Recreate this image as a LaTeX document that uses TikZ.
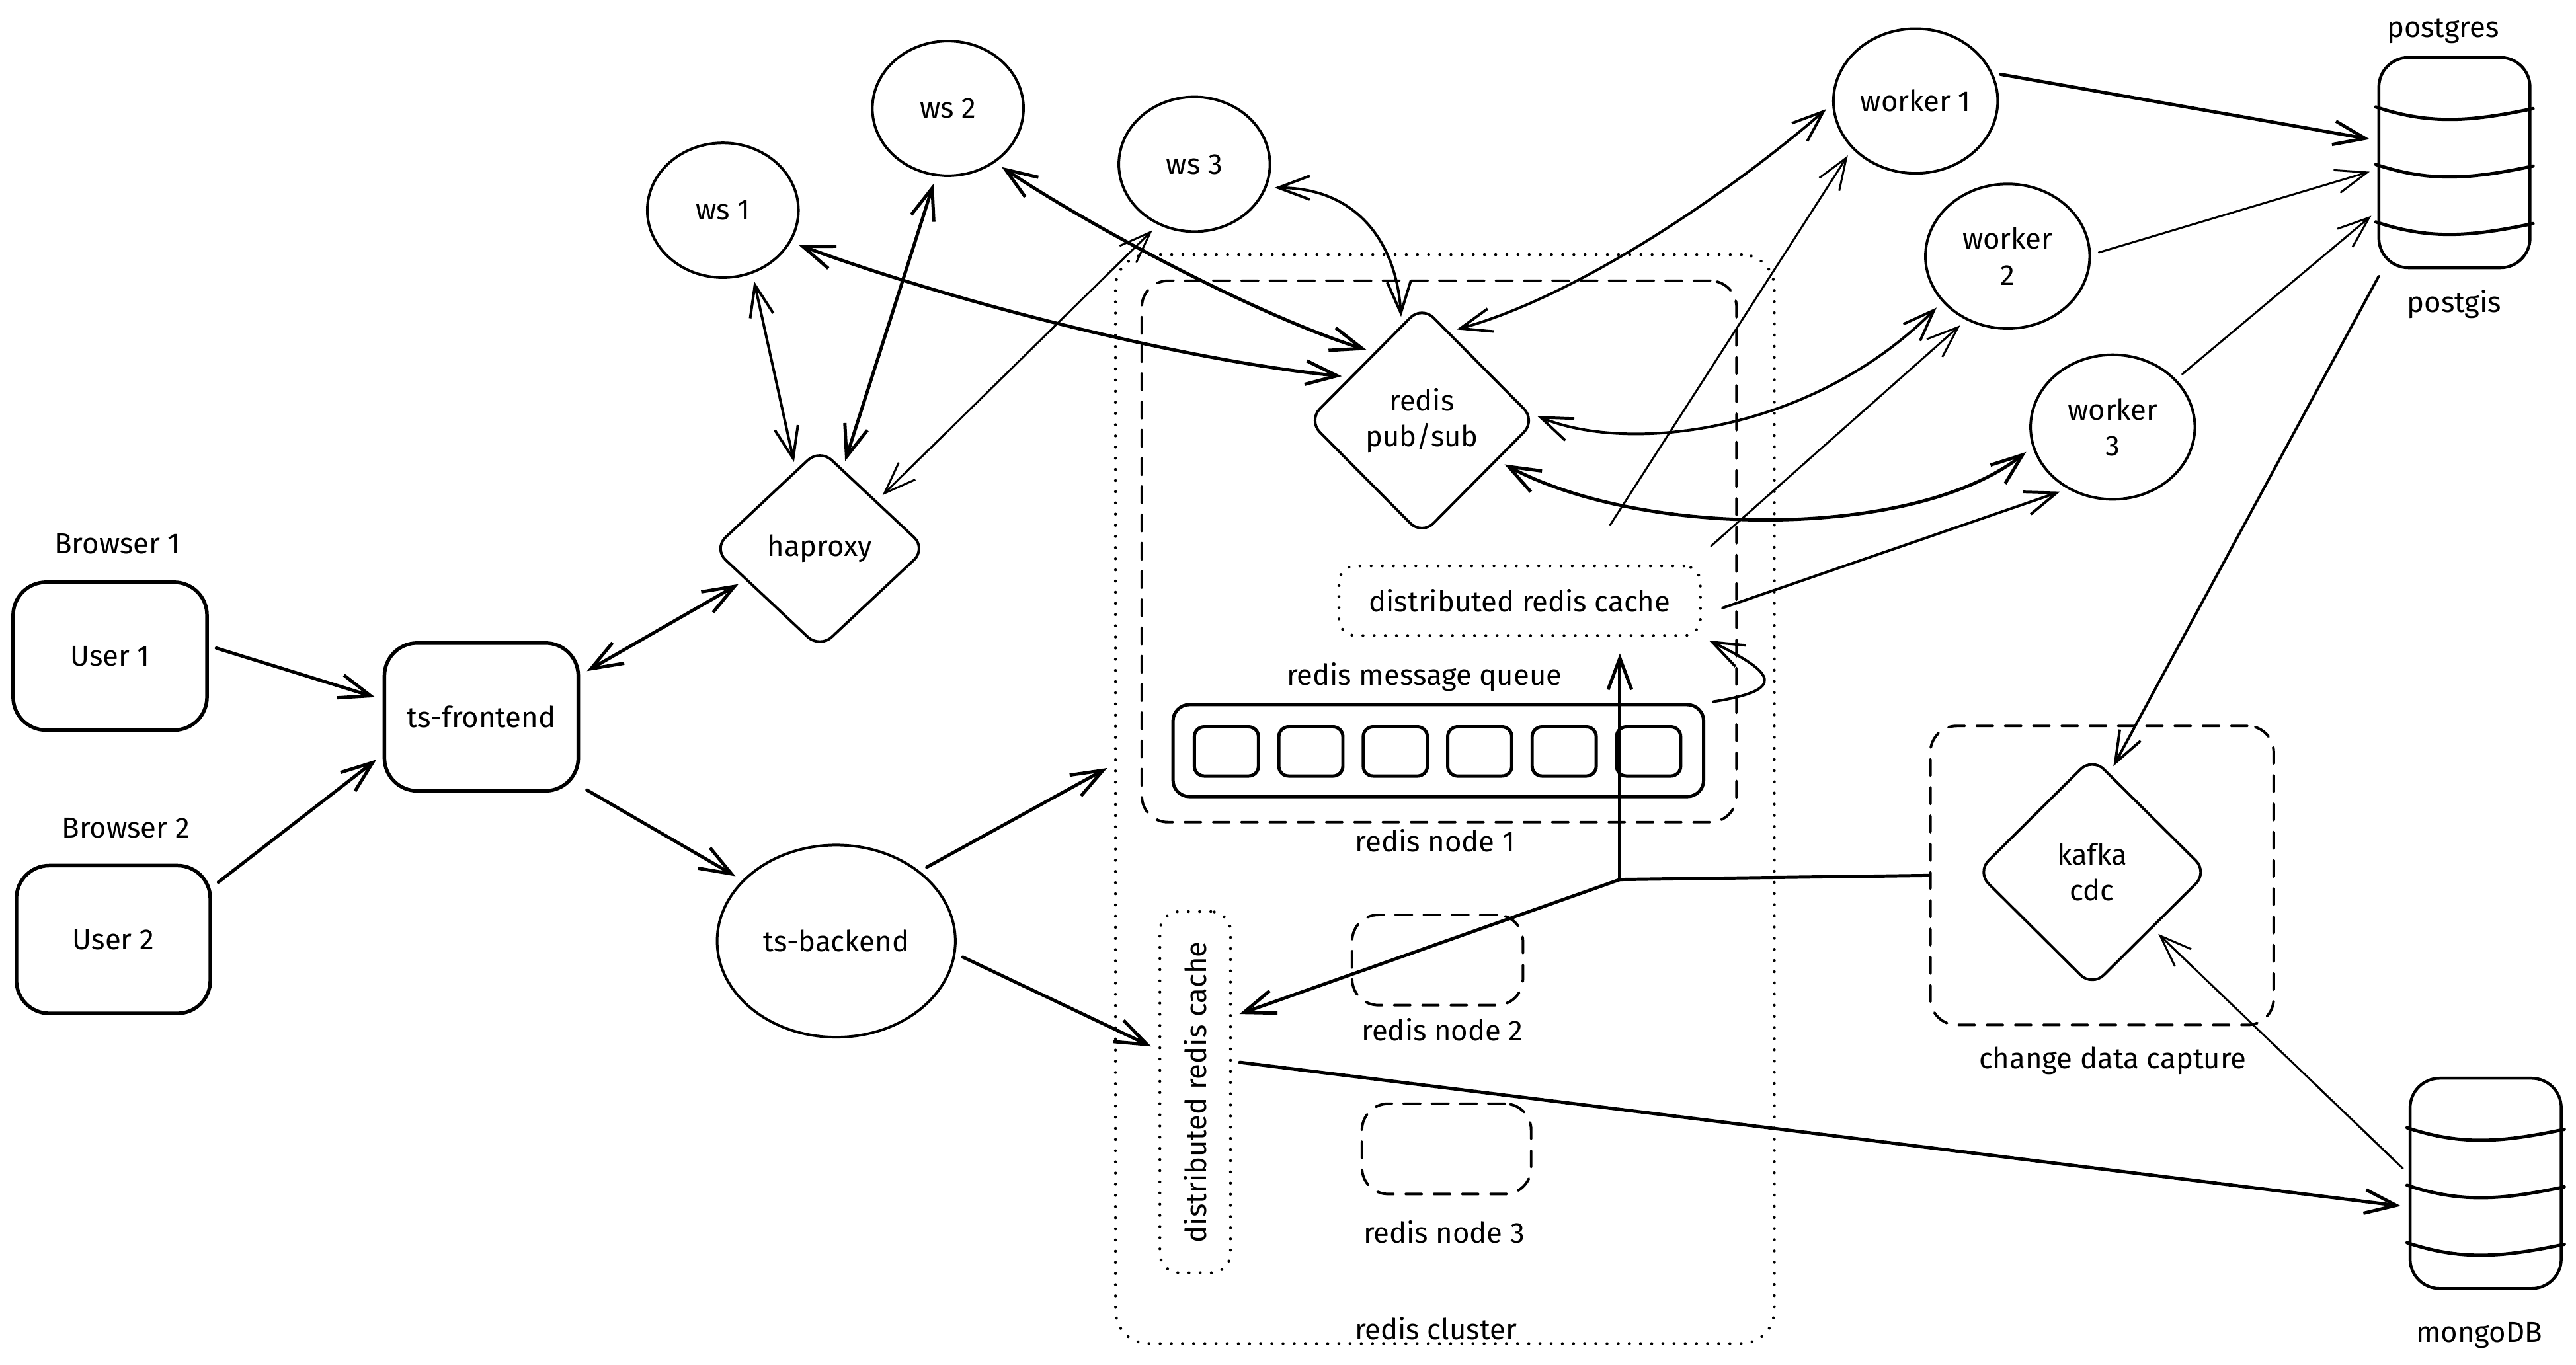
\documentclass[tikz,border=0pt]{standalone}
\usepackage{fontspec}
\setmainfont{Fira Sans}
\usetikzlibrary{positioning, arrows.meta, shapes.geometric, calc}

\begin{document}
\begin{tikzpicture}[x=0.25mm, y=-0.25mm, line cap=round, line join=round,
    font=\fontsize{12.5}{15.5}\selectfont, >={Straight Barb[length=4.8mm,width=3.6mm]},
    userbox/.style={draw, line width=0.55mm, rounded corners=5mm, minimum width=29.5mm, minimum height=22.5mm, inner sep=0pt},
    server/.style={ellipse, draw, line width=0.4mm, inner sep=0pt, minimum width=23mm, minimum height=20.5mm, align=center},
    router/.style={diamond, draw, line width=0.4mm, rounded corners=2.5mm, inner sep=0pt, align=center},
    db/.style={draw, line width=0.45mm, rounded corners=4.5mm, minimum width=23mm, minimum height=32mm},
    group/.style={draw, line width=0.4mm, dash pattern=on 2.5mm off 1.8mm, rounded corners=4mm, inner sep=0pt},
    dotgroup/.style={draw, line width=0.45mm, dash pattern=on 0pt off 1.7mm, rounded corners=5mm, inner sep=0pt},
    slot/.style={draw, line width=0.5mm, rounded corners=1.5mm, minimum width=9.75mm, minimum height=7.5mm},
    lbl/.style={inner sep=1pt},
    link/.style={line width=0.3mm, shorten >=1.2mm, shorten <=1.2mm},
    heavy/.style={link, line width=0.5mm}]
  \useasboundingbox (0,0) rectangle (1568,831);

  % clients
  \node[lbl] (br1) at (71.5,331) {Browser 1};
  \node[userbox] (user1) at (67,399.5) {User 1};
  \node[lbl] (br2) at (76.5,504) {Browser 2};
  \node[userbox] (user2) at (69,572) {User 2};
  \node[userbox] (tsf) at (293,436.5) {ts-frontend};
  \node[router, minimum width=32.5mm, minimum height=30.5mm] (haproxy) at (499,334) {haproxy};
  \node[server, minimum width=36.25mm, minimum height=29.25mm] (tsb) at (509,573) {ts-backend};

  % websocket servers
  \node[server] (ws1) at (440,128) {ws 1};
  \node[server] (ws2) at (577,66) {ws 2};
  \node[server] (ws3) at (727,100) {ws 3};

  % redis cluster
  \node[dotgroup, minimum width=100.25mm, minimum height=165.75mm] (cluster) at (879.5,486.5) {};
  \node[group, minimum width=90.5mm, minimum height=82.4mm] (node1) at (876,335.75) {};
  \node[router, minimum width=34.75mm, minimum height=35mm] (pubsub) at (865.5,256) {redis\\pub/sub};
  \node[dotgroup, minimum width=55mm, minimum height=10.6mm, rounded corners=2.5mm] (topcache) at (925,365.75) {distributed redis cache};
  \node[lbl] (mqlbl) at (867,412) {redis message queue};
  \node[draw, line width=0.5mm, rounded corners=2.5mm, minimum width=80.75mm, minimum height=14mm] (queue) at (875.5,457) {};
  \foreach \i in {0,...,5}
    \node[slot] (slot\i) at (746.5+51.4*\i,457.5) {};
  \node[lbl] (n1lbl) at (873.5,512) {redis node 1};
  \node[dotgroup, minimum width=10.75mm, minimum height=55mm, rounded corners=3mm] (vcache) at (727.5,665) {};
  \node[lbl, rotate=90] (vclbl) at (vcache) {distributed redis cache};
  \node[group, minimum width=26mm, minimum height=13.75mm] (node2) at (875,584.5) {};
  \node[lbl] (n2lbl) at (878,627) {redis node 2};
  \node[group, minimum width=25.75mm, minimum height=13.75mm] (node3) at (880.5,699.5) {};
  \node[lbl] (n3lbl) at (879,750) {redis node 3};
  \node[lbl] (cllbl) at (874,809) {redis cluster};

  % workers and stores
  \node[server, minimum width=25mm, minimum height=22mm] (worker1) at (1166,61.5) {worker 1};
  \node[server, minimum width=25mm, minimum height=22mm] (worker2) at (1222,156) {worker\\2};
  \node[server, minimum width=25mm, minimum height=22mm] (worker3) at (1286,260) {worker\\3};
  \node[db] (pg) at (1494,99) {};
  \node[lbl] (pglbl) at (1487,19) {postgres};
  \node[lbl] (gislbl) at (1494,185) {postgis};
  \node[db] (mongo) at (1513,720.5) {};
  \node[lbl] (mglbl) at (1509,813) {mongoDB};
  \foreach \cyl in {pg, mongo}
    \foreach \dy in {31,66,101}
      \draw[line width=0.5mm] ($(\cyl.north west)+(-1,\dy)$) .. controls ($(\cyl.north)+(-15,\dy+11)$) and ($(\cyl.north)+(10,\dy+9)$) .. ($(\cyl.north east)+(1,\dy+1)$);

  % change data capture
  \node[group, minimum width=52.25mm, minimum height=45.5mm] (cdc) at (1279.5,533) {};
  \node[router, minimum width=35.25mm, minimum height=35mm] (kafka) at (1273.5,531) {kafka\\cdc};
  \node[lbl] (cdclbl) at (1286,646) {change data capture};
  \coordinate (jn) at (986,535.5);

  % connectors
  \draw[heavy, ->] (user1.6) -- (tsf.170);
  \draw[heavy, ->] (user2.28) -- (tsf.201);
  \draw[heavy, <->] (tsf.23) -- (haproxy.203);
  \draw[heavy, ->] (tsf.-35) -- (tsb.147);
  \draw[link, line width=0.4mm, <->] (ws1.-65) -- (haproxy.107);
  \draw[heavy, <->] (ws2.-100) -- (haproxy.74);
  \draw[link, <->] (ws3.-121) -- (haproxy.40);
  \draw[heavy, <->] (ws1.-25) .. controls +(100,37) and +(-100,-10) .. (pubsub.149);
  \draw[heavy, <->] (ws2.-49) .. controls +(60,40) and +(-70,-22) .. (pubsub.125);
  \draw[link, line width=0.4mm, <->] (ws3.-18) .. controls +(55,0) and +(-3,-50) .. (pubsub.102);
  \draw[heavy, ->] (tsb.40) -- (cluster.174);
  \draw[heavy, ->] (tsb.-6) -- (vcache.131);
  \draw[heavy, ->] (vcache.40) -- (mongo.197);
  \draw[link, ->] (mongo.173) -- (kafka.-43);
  \draw[link, line width=0.4mm, <->] (pubsub.73) .. controls +(80,-22) and +(-60,52) .. (worker1.182);
  \draw[link, ->] ($(topcache.north)+(52.5,-20)$) -- (worker1.217);
  \draw[link, ->] ($(topcache.north east)+(2,-8)$) -- (worker2.237);
  \draw[link, line width=0.4mm, ->] ($(topcache.east)+(8,6)$) -- (worker3.234);
  \draw[link, line width=0.4mm, <->] (pubsub.4) .. controls +(60,25) and +(-80,80) .. (worker2.215);
  \draw[heavy, <->] (pubsub.-28) .. controls +(90,48) and +(-71,56) .. (worker3.194);
  \draw[heavy, ->] (worker1.20) -- (pg.164);
  \draw[link, ->] (worker2.1) -- (pg.185);
  \draw[link, ->] (worker3.37) -- (pg.212);
  \draw[link, line width=0.4mm, ->] (pg.236) -- (kafka.80);
  \draw[link, line width=0.4mm, ->] (queue.north east) .. controls +(50,-8) and +(45,22) .. (topcache.south east);
  \draw[heavy, shorten <=0pt, shorten >=0pt] (cdc.west) -- (jn);
  \draw[heavy, shorten <=0pt, shorten >=2.5mm, ->] (jn) -- (jn |- topcache.south);
  \draw[heavy, shorten <=0pt, ->] (jn) -- ($(vcache.east)+(0,-46)$);
\end{tikzpicture}
\end{document}
